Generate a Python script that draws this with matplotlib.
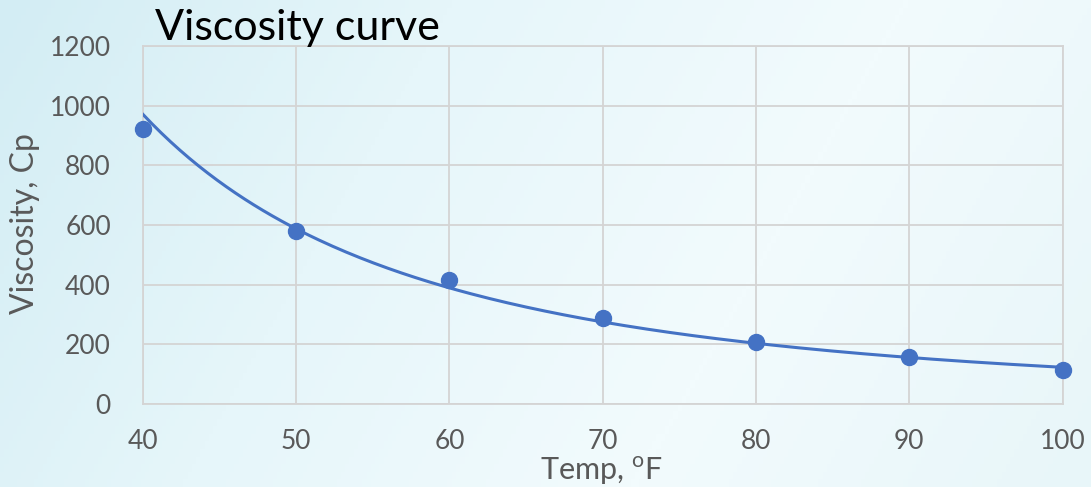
import numpy as np
import matplotlib.pyplot as plt
from matplotlib.colors import LinearSegmentedColormap

# ---------------------------------------------------------------------------
# Data
# ---------------------------------------------------------------------------
temp_f    = [40, 50, 60, 70, 80, 90, 100]
viscosity = [922, 580, 416, 288, 208, 157, 114]

x_ticks = [40, 50, 60, 70, 80, 90, 100]
y_ticks = [0, 200, 400, 600, 800, 1000, 1200]

BLUE = "#4472C4"
GREY = "#595959"
GRID = "#d4d4d4"

plt.rcParams["font.family"] = ["Lato", "DejaVu Sans"]

fig = plt.figure(figsize=(10.91, 4.87), dpi=100)

# soft light-blue backdrop
bg = fig.add_axes([0, 0, 1, 1], zorder=-10)
cmap = LinearSegmentedColormap.from_list("bg", ["#d3edf4", "#e6f6fa", "#f2fbfd", "#e8f6f9"])
gx = np.linspace(0, 1, 256)[None, :] + 0.25 * np.linspace(0, 1, 64)[:, None]
bg.imshow(gx, cmap=cmap, aspect="auto", extent=[0, 1, 0, 1])
bg.axis("off")

ax = fig.add_axes([0.131, 0.1704, 0.843, 0.7351])
ax.patch.set_alpha(0)

# power trend line fitted to the points (as in Excel)
b, ln_a = np.polyfit(np.log(temp_f), np.log(viscosity), 1)
xs = np.linspace(temp_f[0], temp_f[-1], 200)
ax.plot(xs, np.exp(ln_a) * xs ** b, color=BLUE, linewidth=2.2, zorder=3)
ax.plot(temp_f, viscosity, "o", color=BLUE, markersize=11.5, zorder=4, clip_on=False)

ax.set_xlim(40, 100)
ax.set_ylim(0, 1200)
ax.set_xticks(x_ticks)
ax.set_yticks(y_ticks)
ax.grid(True, color=GRID, linewidth=1.3)
ax.set_axisbelow(True)
for s in ax.spines.values():
    s.set_color(GRID)
    s.set_linewidth(1.3)
ax.tick_params(length=0, labelsize=19, colors=GREY)
ax.tick_params(axis="x", pad=18)
ax.tick_params(axis="y", pad=23)

ax.set_ylabel("Viscosity, Cp", fontsize=23, color=GREY, va="center")
ax.yaxis.set_label_coords(-0.128, 0.503)
ax.set_xlabel("Temp, $^{\\mathregular{o}}$F", fontsize=22, color=GREY, va="center")
ax.xaxis.set_label_coords(0.498, -0.186)

fig.text(0.142, 0.943, "Viscosity curve", fontsize=31, color="black", ha="left", va="center")

fig.savefig("out.png", dpi=100)
